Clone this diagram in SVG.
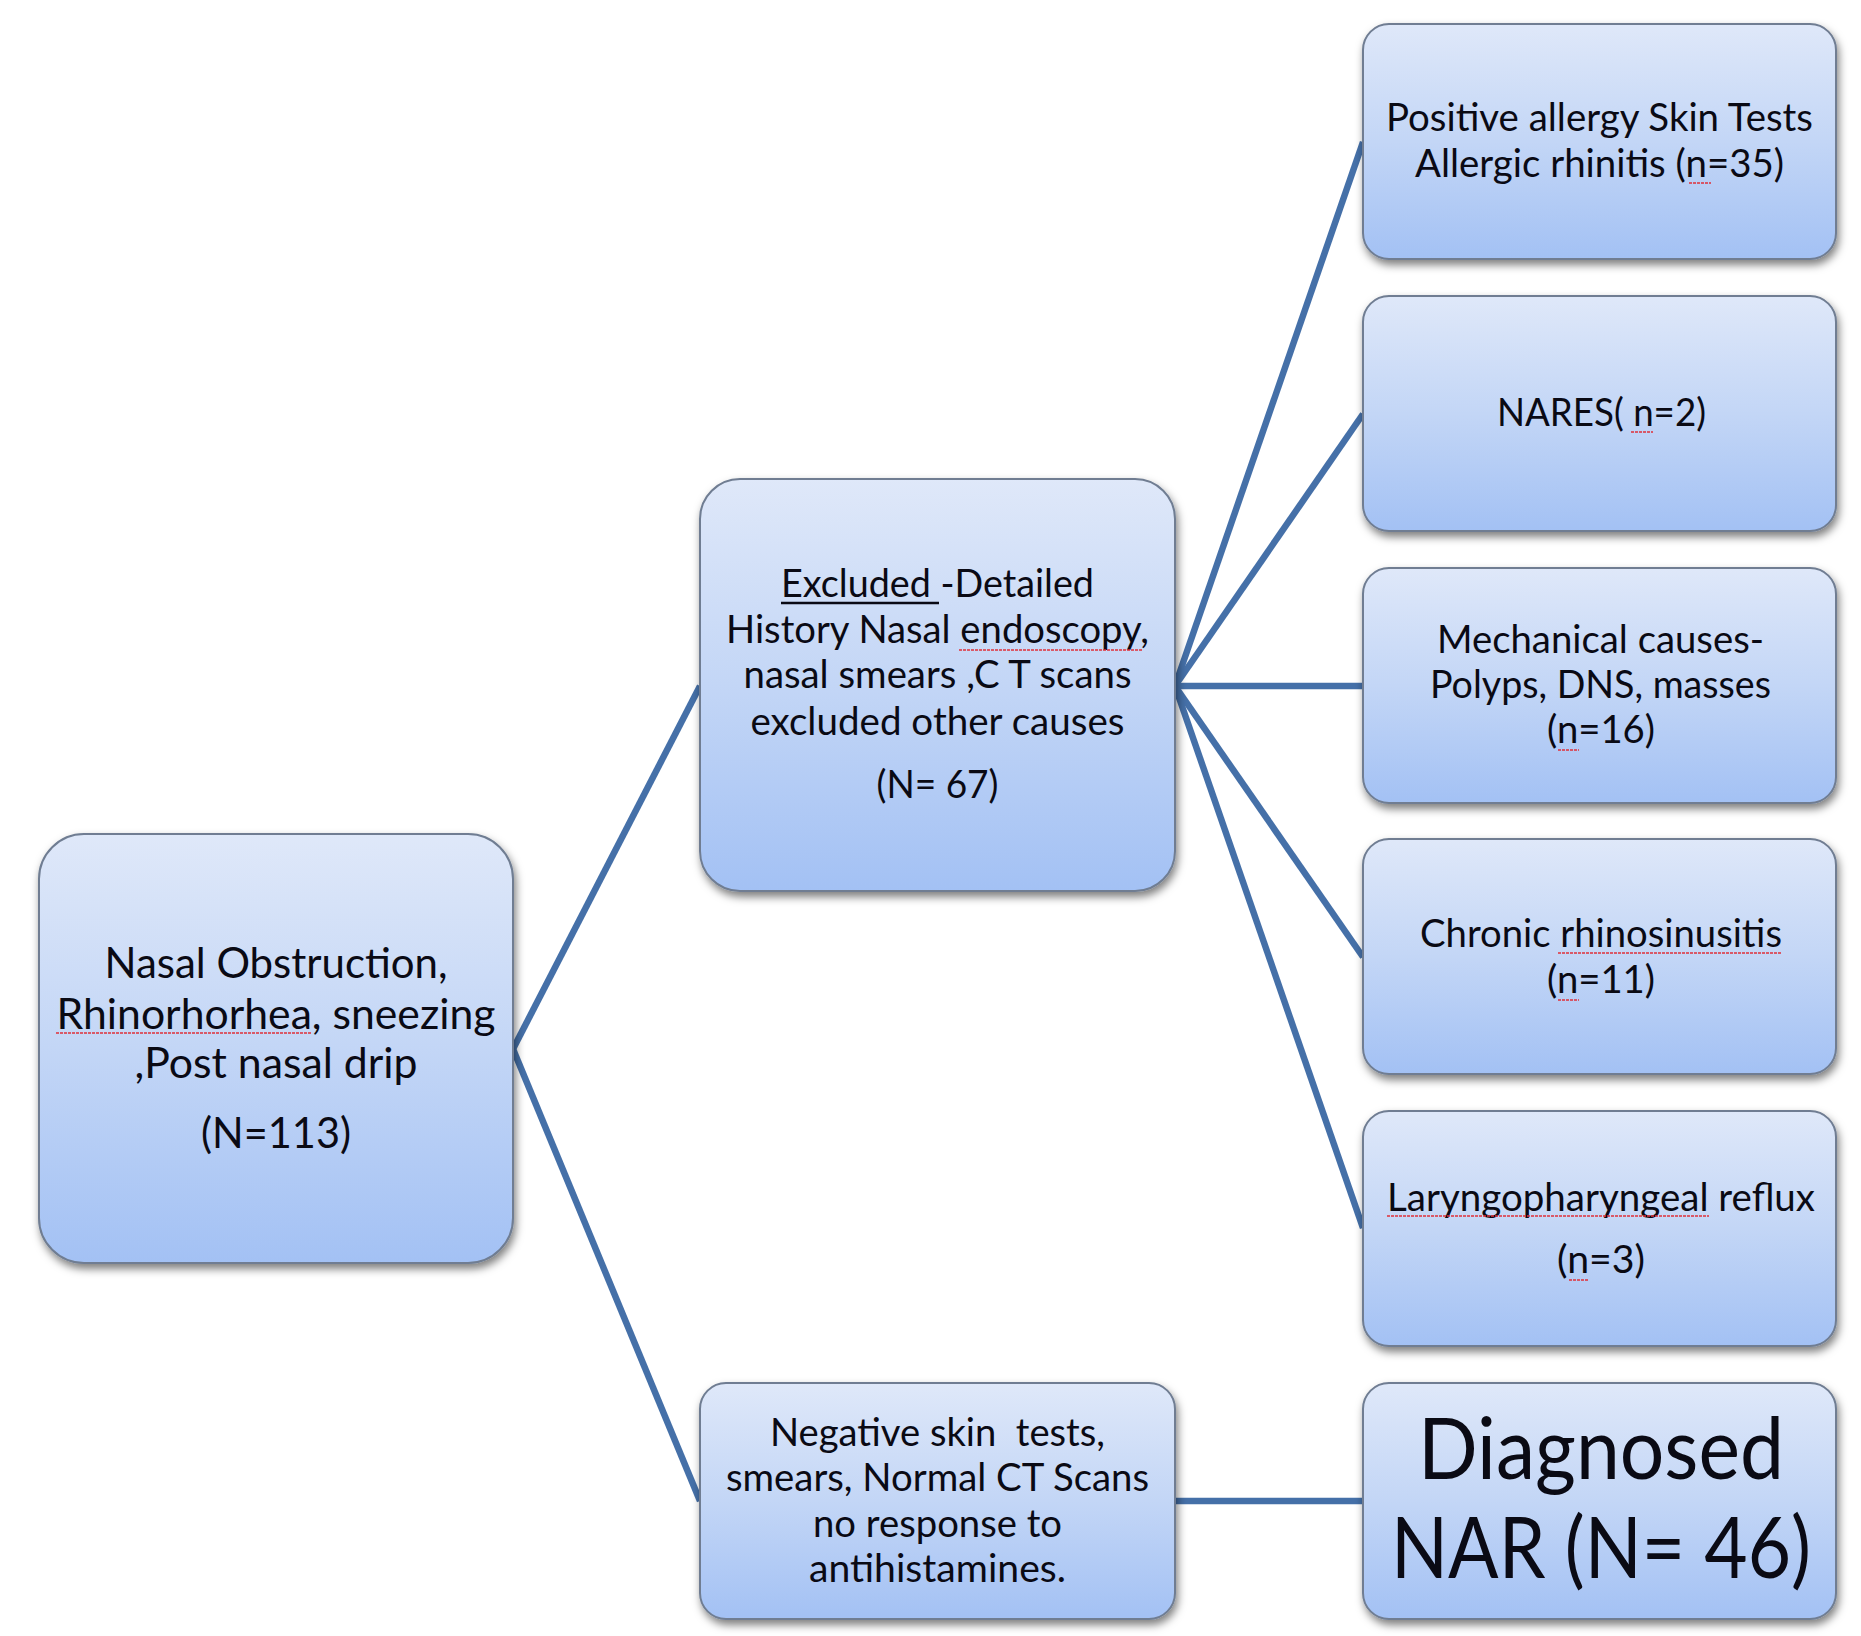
<svg xmlns="http://www.w3.org/2000/svg" width="1861" height="1636" viewBox="0 0 1861 1636">
<style>
.box{fill:url(#g);stroke:#6f7d92;stroke-width:2;filter:url(#sh)}
.t{font-family:Lato,"Open Sans","Liberation Sans",sans-serif;fill:#0a0a14;text-anchor:middle}
.s38{font-size:38px}
.s42{font-size:42px}
.s88{font-size:86px}
.con line{stroke:#4570a8;stroke-width:6.5;stroke-linecap:butt}
.sq{stroke:#e0303a;stroke-width:1.6;fill:none;stroke-dasharray:3 1}
</style>
<defs>
<linearGradient id="g" x1="0" y1="0" x2="0" y2="1">
<stop offset="0" stop-color="#dfe8f9"/>
<stop offset="0.5" stop-color="#c3d6f6"/>
<stop offset="1" stop-color="#a3c1f4"/>
</linearGradient>
<filter id="sh" x="-10%" y="-10%" width="125%" height="130%">
<feDropShadow dx="2" dy="5" stdDeviation="4" flood-color="#000" flood-opacity="0.5"/>
</filter>
</defs>
<rect width="1861" height="1636" fill="#fff"/>
<g id="connectors" class="con">
<line x1="513" y1="1049" x2="700" y2="686"/>
<line x1="513" y1="1049" x2="700" y2="1501"/>
<line x1="1175" y1="686" x2="1363" y2="142"/>
<line x1="1175" y1="686" x2="1363" y2="414"/>
<line x1="1175" y1="686" x2="1363" y2="686"/>
<line x1="1175" y1="686" x2="1363" y2="957"/>
<line x1="1175" y1="686" x2="1363" y2="1228"/>
<line x1="1175" y1="1501" x2="1363" y2="1501"/>
</g>
<g id="n-root">
<rect class="box" x="39" y="834" width="474" height="429" rx="45"/>
<text class="t s42" x="276" y="978" textLength="343" lengthAdjust="spacingAndGlyphs">Nasal Obstruction,</text>
<text class="t s42" x="276" y="1029" textLength="439" lengthAdjust="spacingAndGlyphs">Rhinorhorhea, sneezing</text>
<text class="t s42" x="276" y="1078" textLength="283" lengthAdjust="spacingAndGlyphs">,Post nasal drip</text>
<text class="t s42" x="276" y="1148" textLength="150" lengthAdjust="spacingAndGlyphs">(N=113)</text>
<path class="sq" d="M56 1033 H312"/>
</g>
<g id="n-excluded">
<rect class="box" x="700" y="479" width="475" height="412" rx="40"/>
<text class="t s38" x="937.5" y="597" textLength="313" lengthAdjust="spacingAndGlyphs">Excluded -Detailed</text>
<line x1="781" y1="603" x2="939" y2="603" stroke="#0a0a14" stroke-width="2.5"/>
<text class="t s38" x="937.5" y="643" textLength="423" lengthAdjust="spacingAndGlyphs">History Nasal endoscopy,</text>
<path class="sq" d="M959 650 H1142"/>
<text class="t s38" x="937.5" y="688" textLength="388" lengthAdjust="spacingAndGlyphs">nasal smears ,C T scans</text>
<text class="t s38" x="937.5" y="735" textLength="374" lengthAdjust="spacingAndGlyphs">excluded other causes</text>
<text class="t s38" x="937.5" y="798" textLength="122" lengthAdjust="spacingAndGlyphs">(N= 67)</text>
</g>
<g id="n-negative">
<rect class="box" x="700" y="1383" width="475" height="236" rx="26"/>
<text class="t s38" x="937.5" y="1446" textLength="335" lengthAdjust="spacingAndGlyphs" xml:space="preserve">Negative skin  tests,</text>
<text class="t s38" x="937.5" y="1491" textLength="423" lengthAdjust="spacingAndGlyphs">smears, Normal CT Scans</text>
<text class="t s38" x="937.5" y="1537" textLength="249" lengthAdjust="spacingAndGlyphs">no response to</text>
<text class="t s38" x="937.5" y="1582" textLength="257" lengthAdjust="spacingAndGlyphs">antihistamines.</text>
</g>
<g id="n-allergic">
<rect class="box" x="1363" y="24" width="473" height="235" rx="26"/>
<text class="t s38" x="1599.5" y="131" textLength="427" lengthAdjust="spacingAndGlyphs">Positive allergy Skin Tests</text>
<text class="t s38" x="1599.5" y="177" textLength="369" lengthAdjust="spacingAndGlyphs">Allergic rhinitis (n=35)</text>
<path class="sq" d="M1689 183 H1711"/>
</g>
<g id="n-nares">
<rect class="box" x="1363" y="296" width="473" height="235" rx="26"/>
<text class="t s38" x="1601.5" y="426" textLength="209" lengthAdjust="spacingAndGlyphs">NARES( n=2)</text>
<path class="sq" d="M1631 432 H1653"/>
</g>
<g id="n-mechanical">
<rect class="box" x="1363" y="568" width="473" height="235" rx="26"/>
<text class="t s38" x="1600.5" y="653" textLength="327" lengthAdjust="spacingAndGlyphs">Mechanical causes-</text>
<text class="t s38" x="1600.5" y="698" textLength="341" lengthAdjust="spacingAndGlyphs">Polyps, DNS, masses</text>
<text class="t s38" x="1601" y="743" textLength="108" lengthAdjust="spacingAndGlyphs">(n=16)</text>
<path class="sq" d="M1558 750 H1579"/>
</g>
<g id="n-chronic">
<rect class="box" x="1363" y="839" width="473" height="235" rx="26"/>
<text class="t s38" x="1601" y="947" textLength="362" lengthAdjust="spacingAndGlyphs">Chronic rhinosinusitis</text>
<path class="sq" d="M1558 953 H1782"/>
<text class="t s38" x="1601" y="993" textLength="108" lengthAdjust="spacingAndGlyphs">(n=11)</text>
<path class="sq" d="M1558 1000 H1579"/>
</g>
<g id="n-lpr">
<rect class="box" x="1363" y="1111" width="473" height="235" rx="26"/>
<text class="t s38" x="1601" y="1211" textLength="428" lengthAdjust="spacingAndGlyphs">Laryngopharyngeal reflux</text>
<path class="sq" d="M1387 1216 H1709"/>
<text class="t s38" x="1601" y="1273" textLength="88" lengthAdjust="spacingAndGlyphs">(n=3)</text>
<path class="sq" d="M1569 1280 H1589"/>
</g>
<g id="n-nar">
<rect class="box" x="1363" y="1383" width="473" height="236" rx="26"/>
<text class="t s88" x="1601" y="1479" textLength="366" lengthAdjust="spacingAndGlyphs">Diagnosed</text>
<text class="t s88" x="1601" y="1578" textLength="420" lengthAdjust="spacingAndGlyphs">NAR (N= 46)</text>
</g>
</svg>
